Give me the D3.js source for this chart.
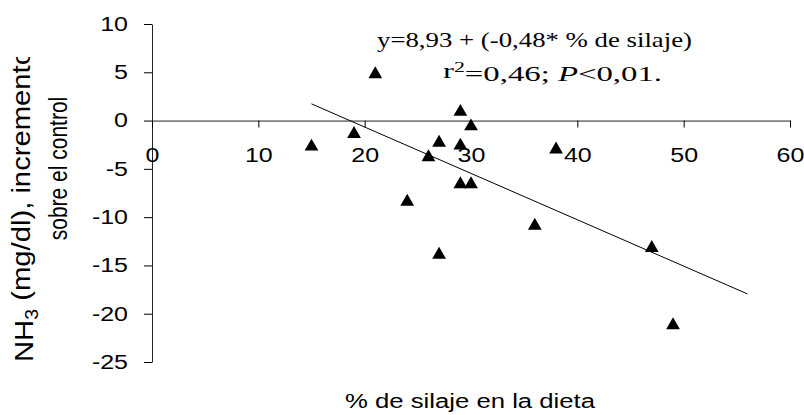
<!DOCTYPE html>
<html>
<head>
<meta charset="utf-8">
<script src="https://cdn.jsdelivr.net/npm/d3@7"></script>
<style>
  html, body { margin: 0; padding: 0; background: #fff; }
  svg { display: block; }
</style>
</head>
<body>
<svg id="chart" width="804" height="415"></svg>
<script>
// Silage share in the diet (%) and NH3 change over control (mg/dl)
const silagePct = [15, 19, 21, 24, 26, 27, 27, 29, 29, 29, 30, 30, 36, 38, 47, 49];
const nh3Change = [-2.5, -1.2, 5.0, -8.2, -3.6, -2.1, -13.7, 1.1, -2.4, -6.4, -0.4, -6.4, -10.7, -2.8, -13.0, -21.0];

const xTicks = [0, 10, 20, 30, 40, 50, 60];
const yTicks = [10, 5, 0, -5, -10, -15, -20, -25];

// Fitted line y = 8.93 - 0.48 x, drawn over the fitted range
const fitIntercept = 8.93;
const fitSlope = -0.48;
const fitRange = [15, 56];

const xTitle = "% de silaje en la dieta";
const yTitle1 = ["NH", "3", " (mg/dl), incremento"];
const yTitle2 = "sobre el control";

const svg = d3.select("#chart");
const SX = 1.25;              // horizontal text stretch
const sans = "'Liberation Sans', Arial, sans-serif";
const serif = "'Liberation Serif', 'Times New Roman', serif";
const plain = d => String(d);  // hyphen-minus, as in the printed axis

const x = d3.scaleLinear().domain([0, 60]).range([152, 790]);
const y = d3.scaleLinear().domain([-25, 10]).range([362, 24]);

// y axis at x = 0
const gy = svg.append("g")
  .attr("transform", `translate(${x(0)},0)`)
  .call(d3.axisLeft(y).tickValues(yTicks).tickSize(8).tickSizeOuter(0).tickPadding(16).tickFormat(plain));
// x axis crossing at y = 0
const gx = svg.append("g")
  .attr("transform", `translate(0,${y(0)})`)
  .call(d3.axisBottom(x).tickValues(xTicks).tickSize(7).tickSizeOuter(0).tickPadding(20).tickFormat(plain));

[gx, gy].forEach(g => {
  g.selectAll("path.domain").attr("stroke", "#222").attr("stroke-width", 1);
  g.selectAll(".tick line").attr("stroke", "#000").attr("stroke-width", 1);
  g.selectAll(".tick text")
    .attr("fill", "#000")
    .style("font-family", sans)
    .style("font-size", "20px");
});
gy.selectAll(".tick text").each(function () {
  const t = d3.select(this);
  t.attr("x", +t.attr("x") / SX).attr("transform", `scale(${SX},1)`);
});
gx.selectAll(".tick text").attr("transform", `scale(${SX},1)`);

// Trend line
svg.append("line")
  .attr("x1", x(fitRange[0])).attr("y1", y(fitIntercept + fitSlope * fitRange[0]))
  .attr("x2", x(fitRange[1])).attr("y2", y(fitIntercept + fitSlope * fitRange[1]))
  .attr("stroke", "#000").attr("stroke-width", 1);

// Points as filled triangles
const tri = d3.symbol(d3.symbolTriangle, 82);
svg.append("g").selectAll("path")
  .data(d3.range(silagePct.length))
  .join("path")
  .attr("d", tri)
  .attr("transform", i => `translate(${x(silagePct[i])},${y(nh3Change[i]) + 1.9})`)
  .attr("fill", "#000");

// Regression annotation
svg.append("text")
  .attr("x", 377).attr("y", 47)
  .attr("textLength", 315).attr("lengthAdjust", "spacingAndGlyphs")
  .style("font-family", serif).style("font-size", "21px").attr("fill", "#000")
  .text("y=8,93 + (-0,48* % de silaje)");
const ann2 = svg.append("text")
  .attr("x", 443).attr("y", 78)
  .attr("textLength", 219).attr("lengthAdjust", "spacingAndGlyphs")
  .style("font-family", serif).style("font-size", "21px").attr("fill", "#000");
ann2.append("tspan").text("r");
ann2.append("tspan").attr("dy", "-0.45em").style("font-size", "14px").text("2");
ann2.append("tspan").attr("dy", "0.45em").text("=0,46; ");
ann2.append("tspan").style("font-style", "italic").text("P");
ann2.append("tspan").text("<0,01.");

// x axis title
svg.append("text")
  .attr("x", 345).attr("y", 408)
  .attr("textLength", 250).attr("lengthAdjust", "spacingAndGlyphs")
  .style("font-family", sans).style("font-size", "20px").attr("fill", "#000")
  .text(xTitle);

// y axis title (first line is cut by its box)
svg.append("clipPath").attr("id", "ytitle-clip")
  .append("rect").attr("x", 0).attr("y", 57).attr("width", 140).attr("height", 358);
const yt1 = svg.append("g").attr("clip-path", "url(#ytitle-clip)")
  .append("text")
  .attr("transform", `translate(33,362) scale(${SX},1) rotate(-90)`)
  .attr("textLength", 313).attr("lengthAdjust", "spacingAndGlyphs")
  .style("font-family", sans).style("font-size", "21px").attr("fill", "#000");
yt1.append("tspan").text(yTitle1[0]);
yt1.append("tspan").attr("dy", "0.3em").style("font-size", "14px").text(yTitle1[1]);
yt1.append("tspan").attr("dy", "-0.3em").text(yTitle1[2]);

svg.append("text")
  .attr("transform", `translate(67,168.5) scale(${SX},1) rotate(-90)`)
  .attr("text-anchor", "middle")
  .style("font-family", sans).style("font-size", "21px").attr("fill", "#000")
  .text(yTitle2);
</script>
</body>
</html>
